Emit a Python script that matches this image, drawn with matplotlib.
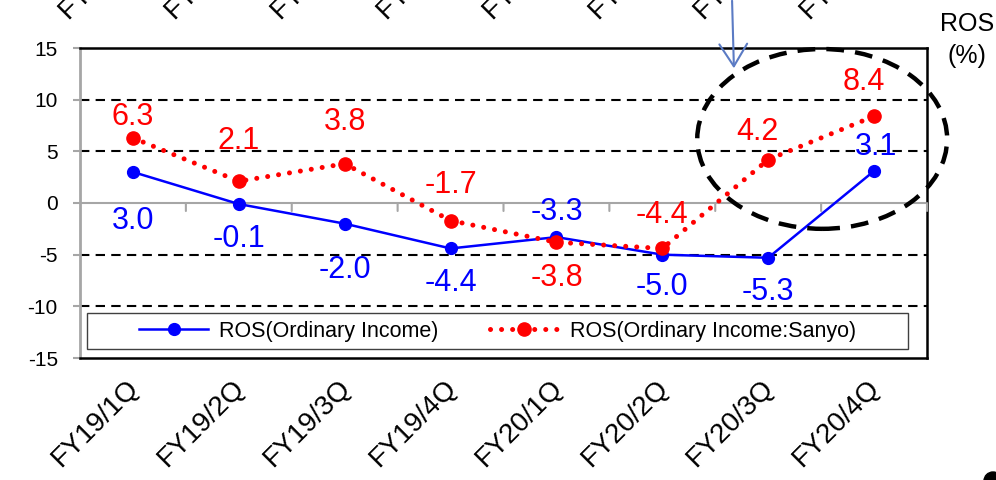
import matplotlib
matplotlib.use("Agg")
import matplotlib.pyplot as plt
from matplotlib.patches import Ellipse, Rectangle, Circle, FancyArrowPatch
from matplotlib.transforms import IdentityTransform
from matplotlib.lines import Line2D

plt.rcParams['font.family'] = ['Liberation Sans', 'DejaVu Sans']
plt.rcParams['axes.unicode_minus'] = False

categories = ["FY19/1Q", "FY19/2Q", "FY19/3Q", "FY19/4Q",
              "FY20/1Q", "FY20/2Q", "FY20/3Q", "FY20/4Q"]
ros_ordinary = [3.0, -0.1, -2.0, -4.4, -3.3, -5.0, -5.3, 3.1]
ros_sanyo = [6.3, 2.1, 3.8, -1.7, -3.8, -4.4, 4.2, 8.4]
y_ticks = [-15, -10, -5, 0, 5, 10, 15]
series_names = ["ROS(Ordinary Income)", "ROS(Ordinary Income:Sanyo)"]
unit_label = "ROS\n(%)"

# label offsets in pixels (dx, dy up)
blue_offsets = [(0, -49), (0, -35), (0, -46), (0, -35), (0, 25), (0, -32), (0, -34), (2, 24)]
red_offsets = [(0, 21), (0, 40), (0, 42), (0, 36), (0, -36), (0, 33), (-11, 28), (-10, 34)]

W, H, DPI = 996, 480, 100
fig = plt.figure(figsize=(W / DPI, H / DPI), dpi=DPI)
ax = fig.add_axes([80 / W, (H - 358) / H, (927 - 80) / W, (358 - 48) / H])

BLUE = "#0000ff"
RED = "#ff0000"
GREY = "#a6a6a6"
PX = 72 / DPI

x = list(range(len(categories)))
ax.set_xlim(-0.5, len(categories) - 0.5)
ax.set_ylim(-15, 15)

# gridlines
for yv in y_ticks:
    if yv in (-15, 15, 0):
        continue
    ax.axhline(yv, color="black", lw=1.5, ls=(0, (4.5, 3)), zorder=1)
# zero line with category boundary ticks
ax.axhline(0, color=GREY, lw=1.5, zorder=1)
for i in range(len(categories)):
    ax.annotate("", xy=(i + 0.5, 0), xytext=(0, -8 * PX), textcoords="offset points",
                arrowprops=dict(arrowstyle="-", color=GREY, lw=1.5, shrinkA=0, shrinkB=0))

# spines
for s in ["top", "right", "bottom"]:
    ax.spines[s].set_color("black")
    ax.spines[s].set_linewidth(1.8)
ax.spines["left"].set_color(GREY)
ax.spines["left"].set_linewidth(2)
ax.set_yticks(y_ticks)
ax.tick_params(axis="y", color=GREY, length=5, width=1.5, labelsize=15, pad=11)
ax.set_xticks([])

# series
ax.plot(x, ros_ordinary, color=BLUE, lw=1.8, marker="o", ms=8.5, zorder=3,
        label=series_names[0])
ax.plot(x, ros_sanyo, color=RED, lw=3.6, ls=(0, (0.01, 2.2)), dash_capstyle="round",
        marker="o", ms=9.5, zorder=4, label=series_names[1])

for i, v in enumerate(ros_ordinary):
    dx, dy = blue_offsets[i]
    ax.annotate(f"{v:.1f}", xy=(i, v), xytext=(dx * PX, dy * PX), textcoords="offset points",
                ha="center", va="center", fontsize=22, color=BLUE, zorder=5)
for i, v in enumerate(ros_sanyo):
    dx, dy = red_offsets[i]
    ax.annotate(f"{v:.1f}", xy=(i, v), xytext=(dx * PX, dy * PX), textcoords="offset points",
                ha="center", va="center", fontsize=22, color=RED, zorder=5)

# category labels (bottom) and clipped duplicates at top
for i, c in enumerate(categories):
    ax.annotate(c, xy=(i, -15), xytext=(2 * PX, -26 * PX), textcoords="offset points",
                rotation=45, rotation_mode="anchor", ha="right", va="center",
                fontsize=20, annotation_clip=False)
    ax.annotate(c, xy=(i, -15), xytext=(9 * PX, 422 * PX), textcoords="offset points",
                rotation=45, rotation_mode="anchor", ha="right", va="center",
                fontsize=20, annotation_clip=False)

# legend box
ax.add_patch(Rectangle((7 / 847, 9 / 310), (908 - 87) / 847, (349 - 313) / 310,
                       transform=ax.transAxes, facecolor="white", edgecolor="#404040",
                       lw=1.0, zorder=6))
handles = [Line2D([], [], color=BLUE, lw=1.8, marker="o", ms=8.5),
           Line2D([], [], color=RED, lw=3.6, ls=(0, (0.01, 2.2)), dash_capstyle="round",
                  marker="o", ms=9.5)]
leg = ax.legend(handles, series_names, loc="center",
                bbox_to_anchor=((87 + 908) / 2 / 847 - 80 / 847, (358 - 331) / 310),
                ncol=2, frameon=False, fontsize=15.5, handlelength=3.2, columnspacing=2.4,
                handletextpad=0.5)
leg.set_zorder(7)

# highlight ellipse
ax.add_patch(Ellipse((6.51, 6.2), 2.36, 17.4, fill=False, edgecolor="black", lw=3.2,
                     ls=(0, (4, 2.5)), clip_on=False, zorder=8))

# arrow from above
fig.add_artist(FancyArrowPatch((732, H + 2), (734, H - 71),
               transform=IdentityTransform(), arrowstyle="->,head_length=8,head_width=5",
               color="#5b7bc4", lw=1.5, mutation_scale=2))

# unit label
fig.text(967 / W, (H - 40) / H, unit_label, ha="center", va="center", fontsize=18,
         linespacing=1.4)

# partial dot at bottom right
fig.add_artist(Circle((993, -1), 9, transform=IdentityTransform(), color="black"))

fig.savefig("out.png", dpi=DPI)
